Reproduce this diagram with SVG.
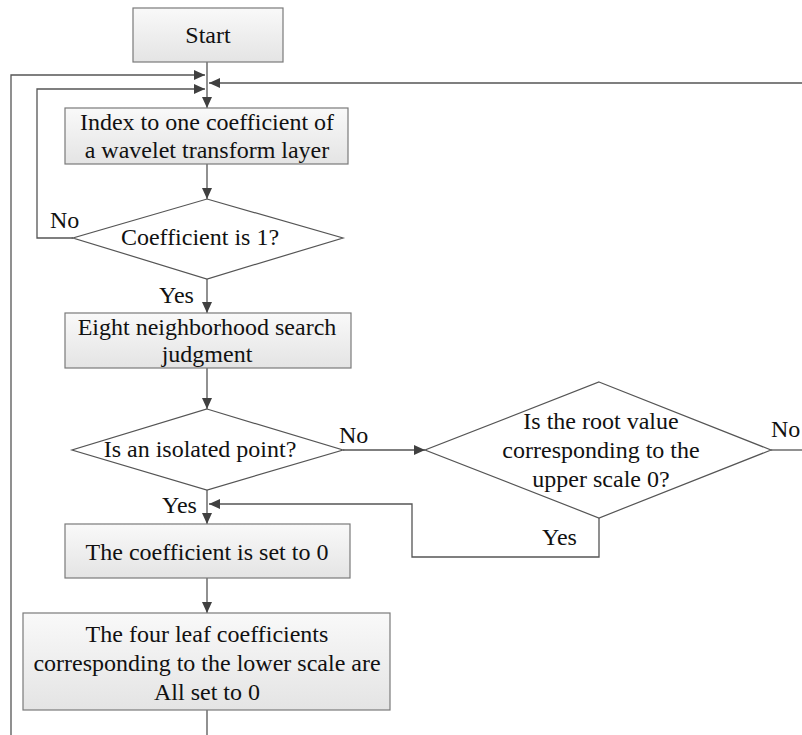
<svg xmlns="http://www.w3.org/2000/svg" width="802" height="735" viewBox="0 0 802 735">
<defs>
<linearGradient id="g" x1="0" y1="0" x2="0" y2="1">
<stop offset="0" stop-color="#f9f9f9"/>
<stop offset="1" stop-color="#e4e4e4"/>
</linearGradient>
<marker id="ah" viewBox="0 0 11 10" refX="11" refY="5" markerWidth="11" markerHeight="10" markerUnits="userSpaceOnUse" orient="auto">
<path d="M0,0 L11,5 L0,10 Z" fill="#404040"/>
</marker>
<style>
.box{fill:url(#g);stroke:#7a7a7a;stroke-width:1.2}
.dia{fill:#ffffff;stroke:#555555;stroke-width:1.2}
text{font-family:'Liberation Serif','Tinos','DejaVu Serif','Noto Serif',serif;font-size:24px;fill:#111111}
.t{text-anchor:middle}
.c{fill:none;stroke:#555555;stroke-width:1.3}
.ca{fill:none;stroke:#555555;stroke-width:1.3;marker-end:url(#ah)}
</style>
</defs>
<rect width="802" height="735" fill="#ffffff"/>
<g id="connectors">
<line class="ca" x1="207" y1="62" x2="207" y2="108"/>
<polyline class="ca" points="11,735 11,75 205,75"/>
<polyline class="ca" points="73,238 37,238 37,89 205,89"/>
<line class="ca" x1="802" y1="83" x2="209" y2="83"/>
<line class="ca" x1="207" y1="164" x2="207" y2="199"/>
<line class="ca" x1="207" y1="279" x2="207" y2="313"/>
<line class="ca" x1="207" y1="368" x2="207" y2="409"/>
<line class="ca" x1="343" y1="450" x2="425" y2="450"/>
<line class="c" x1="771" y1="450" x2="802" y2="450"/>
<line class="ca" x1="207" y1="490" x2="207" y2="524"/>
<polyline class="ca" points="599,518 599,557 412,557 412,504 209,504"/>
<line class="ca" x1="207" y1="578" x2="207" y2="613"/>
<line class="c" x1="207" y1="710" x2="207" y2="735"/>
<text font-family="Liberation Serif, serif" x="50" y="228">No</text>
<text font-family="Liberation Serif, serif" x="159" y="303">Yes</text>
<text font-family="Liberation Serif, serif" x="339" y="443">No</text>
<text font-family="Liberation Serif, serif" x="771" y="437">No</text>
<text font-family="Liberation Serif, serif" x="162" y="513">Yes</text>
<text font-family="Liberation Serif, serif" x="542" y="545">Yes</text>
</g>
<g id="start">
<rect class="box" x="133" y="8" width="150" height="54"/>
<text class="t" x="208" y="43">Start</text>
</g>
<g id="index">
<rect class="box" x="65" y="108" width="283" height="56"/>
<text class="t" x="207" y="130">Index to one coefficient of</text>
<text class="t" x="207" y="158">a wavelet transform layer</text>
</g>
<g id="coef1">
<polygon class="dia" points="207,199 343,238 207,279 73,238"/>
<text class="t" x="200" y="245">Coefficient is 1?</text>
</g>
<g id="eight">
<rect class="box" x="65" y="313" width="286" height="55"/>
<text class="t" x="207" y="335">Eight neighborhood search</text>
<text class="t" x="207" y="362">judgment</text>
</g>
<g id="isolated">
<polygon class="dia" points="207,409 343,450 207,490 72,450"/>
<text class="t" x="200" y="457">Is an isolated point?</text>
</g>
<g id="root">
<polygon class="dia" points="599,382 771,450 599,518 425,450"/>
<text class="t" x="601" y="429">Is the root value</text>
<text class="t" x="601" y="458">corresponding to the</text>
<text class="t" x="601" y="487">upper scale 0?</text>
</g>
<g id="setzero">
<rect class="box" x="65" y="524" width="285" height="54"/>
<text class="t" x="207" y="560">The coefficient is set to 0</text>
</g>
<g id="four">
<rect class="box" x="23" y="613" width="367" height="97"/>
<text class="t" x="207" y="642">The four leaf coefficients</text>
<text class="t" x="207" y="671">corresponding to the lower scale are</text>
<text class="t" x="207" y="700">All set to 0</text>
</g>
</svg>
